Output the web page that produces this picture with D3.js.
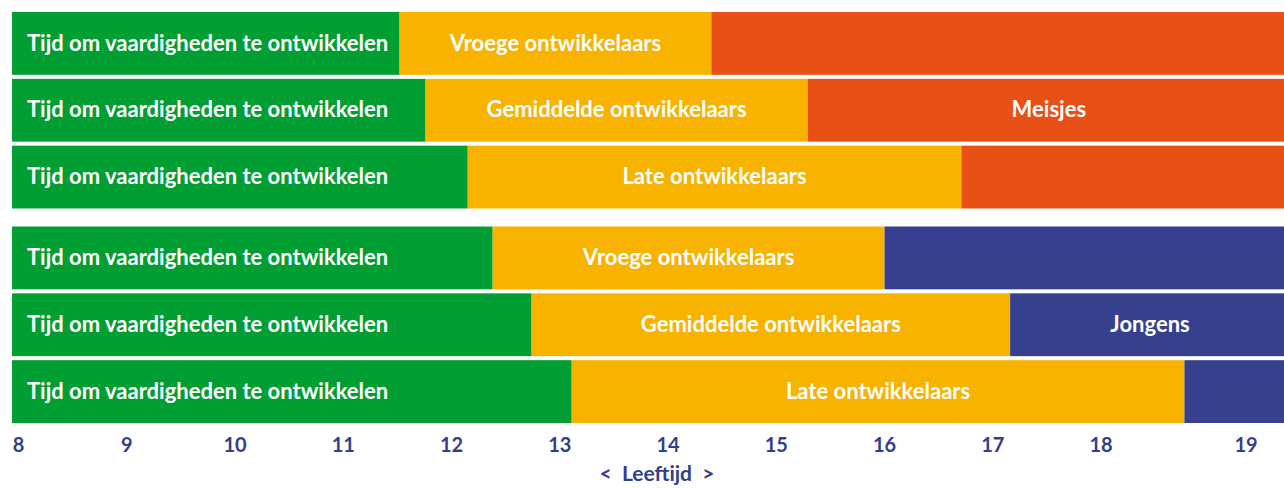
<!DOCTYPE html>
<html>
<head>
<meta charset="utf-8">
<script src="https://cdn.jsdelivr.net/npm/d3@7"></script>
<style>
  html, body { margin: 0; padding: 0; background: #fff; }
  svg { display: block; }
  text { font-family: Lato, "Open Sans", sans-serif; font-weight: 700; }
</style>
</head>
<body>
<svg id="chart" width="1284" height="488"></svg>
<script>
// ---- data ----
const groups = ["Meisjes", "Jongens"];
const rowTypes = ["Vroege ontwikkelaars", "Gemiddelde ontwikkelaars", "Late ontwikkelaars"];
const startAge = 8;
const endAge = 19.75;
// end of "Tijd om vaardigheden te ontwikkelen" per row (girls then boys)
const skillEnd = [11.58, 11.82, 12.21, 12.44, 12.80, 13.17];
// end of puberty phase per row
const pubertyEnd = [14.46, 15.35, 16.77, 16.06, 17.22, 18.83];
const skillLabel = "Tijd om vaardigheden te ontwikkelen";
const tickValues = [8, 9, 10, 11, 12, 13, 14, 15, 16, 17, 18, 19.34];
const tickLabels = ["8", "9", "10", "11", "12", "13", "14", "15", "16", "17", "18", "19"];
const axisTitle = "<  Leeftijd  >";

const colors = { skill: "#009E33", puberty: "#F8B200", Meisjes: "#E85015", Jongens: "#36408E", axis: "#343E8C" };

// ---- layout ----
const svg = d3.select("#chart");
const W = 1284;
const x = d3.scaleLinear().domain([startAge, endAge]).range([12, W]);
const yGroup = d3.scaleBand().domain(groups).range([12, 423]).paddingInner(0.084).paddingOuter(0);
const yRow = d3.scaleBand().domain(rowTypes).range([0, yGroup.bandwidth()]).paddingInner(0.06).paddingOuter(0);

const rows = [];
groups.forEach((g, gi) => {
  rowTypes.forEach((r, ri) => {
    const i = gi * 3 + ri;
    rows.push({ group: g, type: r, y: yGroup(g) + yRow(r), s: skillEnd[i], p: pubertyEnd[i], mid: ri === 1 });
  });
});

const h = yRow.bandwidth();
const fs = 22;
const rowG = svg.selectAll("g.row").data(rows).join("g").attr("class", "row")
  .attr("transform", d => `translate(0,${d.y})`);

rowG.append("rect").attr("x", x(startAge)).attr("width", d => x(d.s) - x(startAge)).attr("height", h).attr("fill", colors.skill);
rowG.append("rect").attr("x", d => x(d.s)).attr("width", d => x(d.p) - x(d.s)).attr("height", h).attr("fill", colors.puberty);
rowG.append("rect").attr("x", d => x(d.p)).attr("width", d => x(endAge) - x(d.p)).attr("height", h).attr("fill", d => colors[d.group]);

rowG.append("text").attr("x", x(startAge) + 15).attr("y", h / 2).attr("dy", "0.33em")
  .attr("fill", "#fff").attr("font-size", fs).text(skillLabel);
rowG.append("text").attr("x", d => (x(d.s) + x(d.p)) / 2).attr("y", h / 2).attr("dy", "0.33em")
  .attr("text-anchor", "middle").attr("fill", "#fff").attr("font-size", fs).text(d => d.type);
rowG.filter(d => d.mid).append("text").attr("x", d => (x(d.p) + x(endAge)) / 2 + 3).attr("y", h / 2).attr("dy", "0.33em")
  .attr("text-anchor", "middle").attr("fill", "#fff").attr("font-size", fs).text(d => d.group);

// ---- axis ----
const axis = d3.axisBottom(x).tickValues(tickValues).tickSize(0).tickPadding(0)
  .tickFormat((d, i) => tickLabels[i]);
const ax = svg.append("g").attr("transform", "translate(6,433)").call(axis);
ax.select(".domain").remove();
ax.selectAll("text").attr("fill", colors.axis).attr("font-size", 20)
  .style("font-family", "Lato, sans-serif").style("font-weight", 700).attr("dy", "0.95em");

svg.append("text").attr("x", (x(startAge) + x(endAge)) / 2 + 9).attr("y", 481)
  .attr("text-anchor", "middle").attr("fill", colors.axis).attr("font-size", 21)
  .attr("xml:space", "preserve").style("white-space", "pre").text(axisTitle);
</script>
</body>
</html>
